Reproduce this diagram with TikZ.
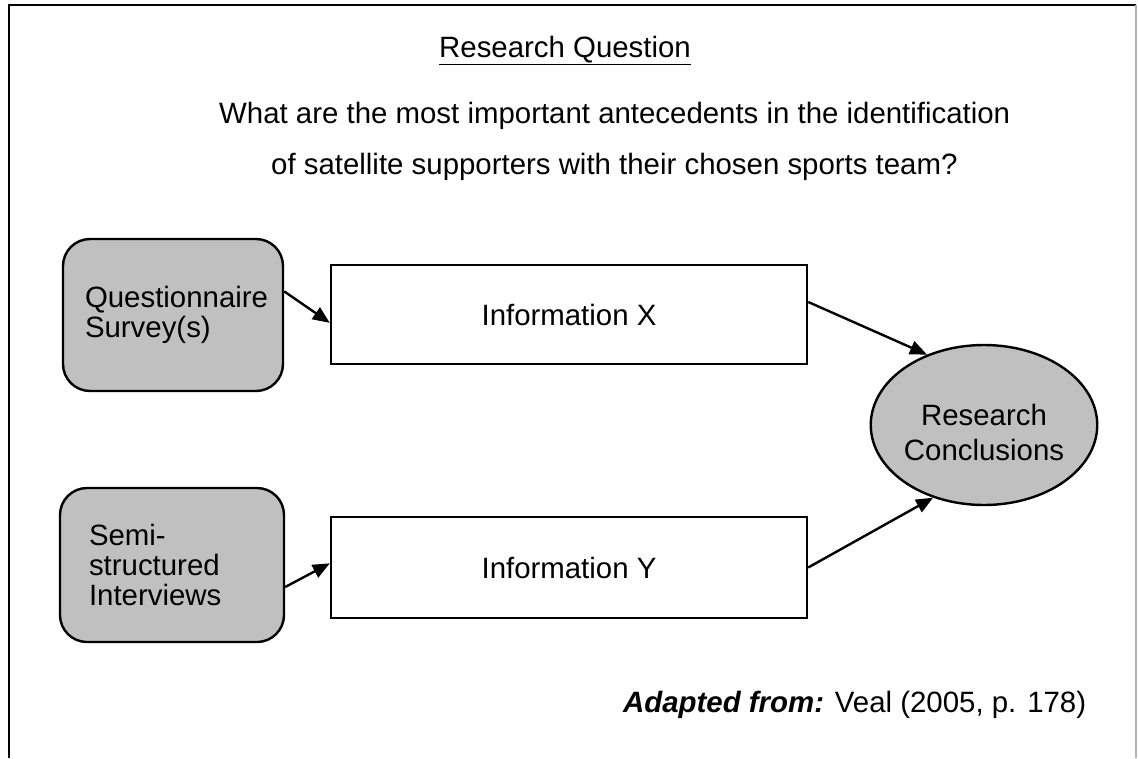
\documentclass[tikz,border=0pt]{standalone}
\usepackage{fontspec}
\setmainfont{Liberation Sans}
\usetikzlibrary{shapes.geometric,arrows.meta}
\definecolor{boxgrey}{HTML}{C0C0C0}
\tikzset{
  source/.style={draw,line width=2.4pt,fill=boxgrey,rounded corners=27pt,
    align=left,minimum height=152pt,inner ysep=0pt},
  info/.style={draw,line width=2.4pt,minimum width=476pt,minimum height=99pt,inner sep=0pt},
  outcome/.style={draw,line width=2.4pt,fill=boxgrey,ellipse,minimum width=224pt,
    minimum height=160pt,inner sep=0pt,align=center},
  plain/.style={inner sep=0pt,anchor=base west}
}
\begin{document}
\begin{tikzpicture}[x=1pt,y=-1pt,font=\fontsize{29.4}{30}\selectfont]
      \useasboundingbox (0,0) rectangle (1138,758);
      \draw[line width=2.4pt] (9,758) -- (9,5) -- (1136,5);
      \draw[line width=1.8pt,gray!60] (1136,5) -- (1136,758);
      \draw
        (439,57) node[plain] (rq){\underline{Research Question}}
        (219,123) node[plain] (q1){What are the most important antecedents in the identification}
        (271,174) node[plain] (q2){of satellite supporters with their chosen sports team?}
        (173,315) node[source,text width=176pt,inner xsep=22pt] (qs){Questionnaire\\Survey(s)}
        (172,565) node[source,text width=166pt,inner xsep=29pt,minimum height=154pt] (ssi){Semi-\\structured\\Interviews}
        (569,314.5) node[info] (infx){Information X}
        (569,567.5) node[info,minimum height=101pt] (infy){Information Y}
        (984,425) node[outcome,font=\fontsize{29.4}{35}\selectfont] (rc){\rule{0pt}{37pt}Research\\Conclusions}
        (623,712) node[plain] (src){{\bfseries\itshape Adapted from:} Veal (2005, p. 178)};
      \begin{scope}[line width=2.4pt,-{Triangle[length=17pt,width=14pt]}]
        \draw (qs.12) to (infx.182);
        \draw (ssi.-11) to (infy.179);
        \draw (infx.3) to (rc.129);
        \draw (infy.east) to (rc.235);
      \end{scope}
    \end{tikzpicture}
\end{document}
